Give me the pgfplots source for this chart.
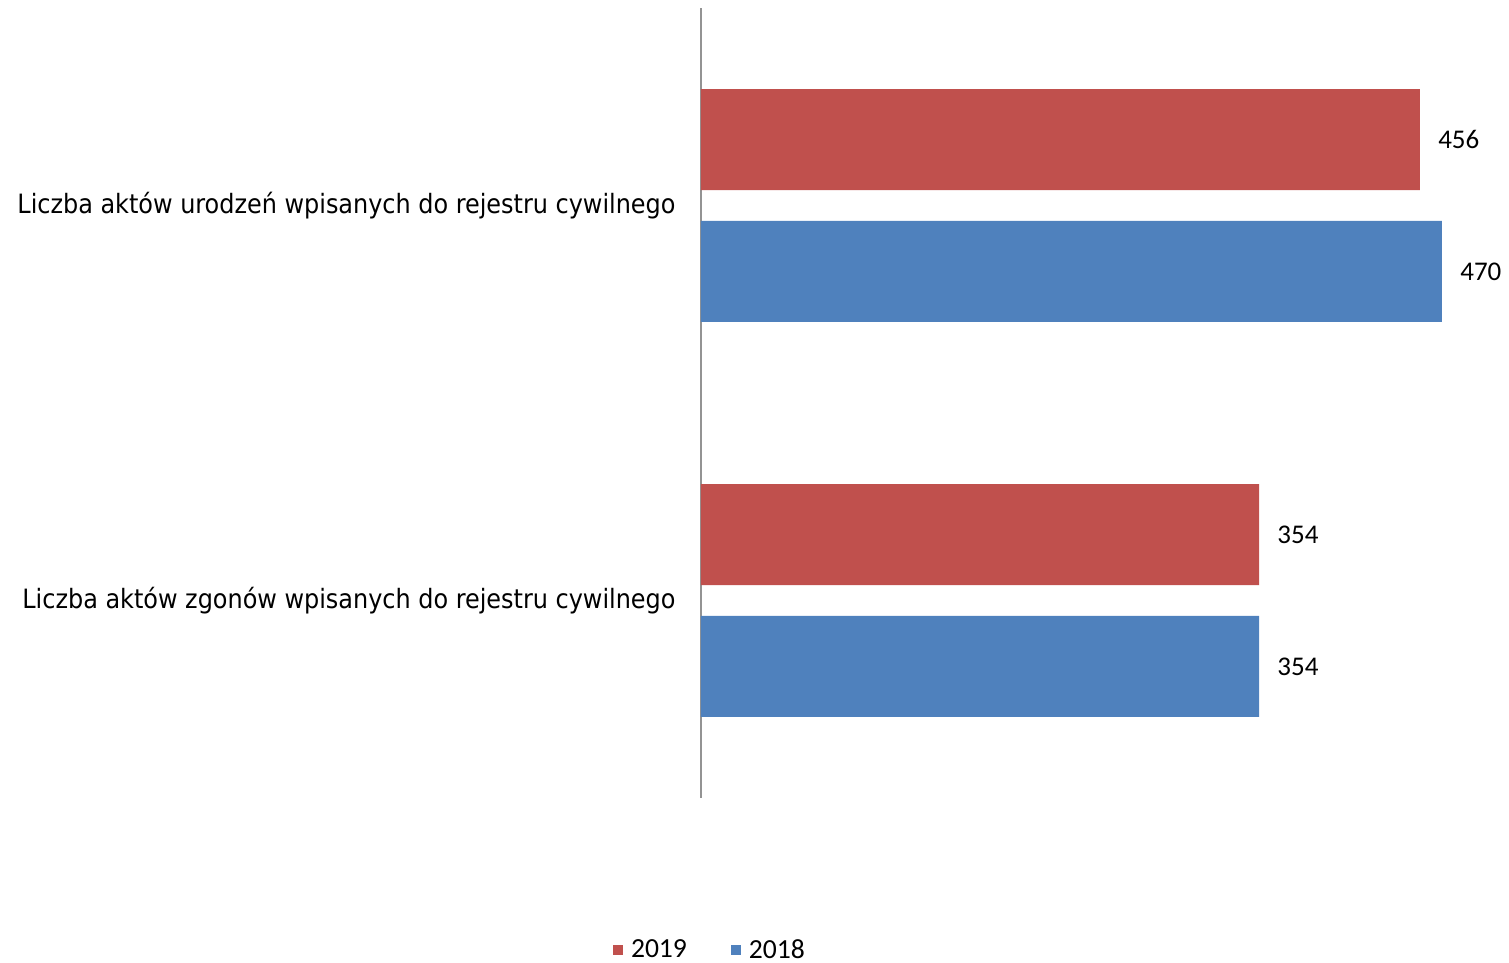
\documentclass[border=0pt]{standalone}
\usepackage{pgfplots}
\pgfplotsset{compat=1.18}
\usepackage{fontspec}
\setmainfont{Carlito}
\newfontfamily\labfont{DejaVu Sans Condensed}

\definecolor{red19}{HTML}{C0504D}
\definecolor{blue18}{HTML}{4F81BD}

\begin{document}
\begin{tikzpicture}
\begin{axis}[
    at={(0,0)}, anchor=south west,
    scale only axis,
    width=402pt, height=395pt,
    xbar,
    xmin=0, xmax=510,
    ymin=-0.5, ymax=1.5,
    y dir=reverse,
    bar width=0.2557,
    axis x line=none,
    axis y line*=left,
    y axis line style={draw=gray!85, line width=1.4pt, -},
    xtick=\empty,
    ytick={0,1},
    yticklabels={Liczba aktów urodzeń wpisanych do rejestru cywilnego,
                 Liczba aktów zgonów wpisanych do rejestru cywilnego},
    major tick length=0pt,
    yticklabel style={font=\labfont\fontsize{13.3pt}{16pt}\selectfont,
                      inner sep=0pt, xshift=-12.5pt},
    /pgf/number format/assume math mode=true,
    nodes near coords,
    nodes near coords style={font=\fontsize{13.5pt}{16pt}\selectfont,
                             inner sep=0pt, anchor=west, xshift=9pt},
    legend columns=2,
    legend style={at={(0.0124,-0.1925)}, anchor=center, draw=none,
                  font=\fontsize{13.8pt}{16pt}\selectfont,
                  /tikz/every even column/.append style={column sep=20pt}},
    legend image code/.code={\fill[#1] (0pt,-2.5pt) rectangle (5pt,2.5pt);
                             \path (7pt,0pt);},
]
\addplot[fill=red19, draw=none, bar shift=-0.167] coordinates {(456,0) (354,1)};
\addplot[fill=blue18, draw=none, bar shift=0.167] coordinates {(470,0) (354,1)};
\legend{2019,2018}
\end{axis}
\pgfresetboundingbox
\path (-350.5pt,-82.5pt) rectangle (404pt,399pt);
\end{tikzpicture}
\end{document}
